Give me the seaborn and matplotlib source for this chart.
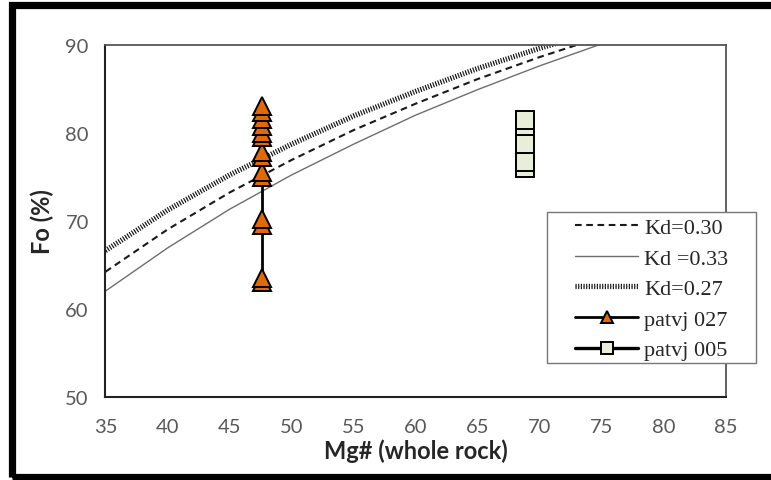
import matplotlib
matplotlib.use("Agg")
import matplotlib.pyplot as plt
import matplotlib.patheffects as pe
from matplotlib.patches import Rectangle
import seaborn as sns

# ---- data ----
mg_curve = [35, 40, 45, 50, 55, 60, 65, 70, 75]
fo_kd030 = [64.2, 69.0, 73.2, 76.9, 80.3, 83.3, 86.1, 88.6, 90.9]
fo_kd033 = [62.0, 66.9, 71.3, 75.2, 78.7, 82.0, 84.9, 87.6, 90.1]
fo_kd027 = [66.6, 71.2, 75.2, 78.7, 81.9, 84.7, 87.3, 89.6, 91.7]

mg_027 = [47.6] * 14
fo_027 = [63.0, 63.5, 69.5, 70.2, 75.0, 75.5, 77.2, 77.8, 79.5, 80.0, 80.8, 81.5, 82.3, 83.0]

mg_005 = [68.8] * 5
fo_005 = [76.0, 76.7, 78.7, 80.8, 81.4]

x_ticks = [35, 40, 45, 50, 55, 60, 65, 70, 75, 80, 85]
y_ticks = [50, 60, 70, 80, 90]
x_label = "Mg# (whole rock)"
y_label = "Fo (%)"

sns.set_style("white")
plt.rcParams["font.family"] = ["Lato", "DejaVu Sans"]

fig = plt.figure(figsize=(7.71, 4.81), dpi=100)
ax = fig.add_axes([0.1368, 0.1732, 0.9416 - 0.1368, 0.905 - 0.1732])

sns.lineplot(x=mg_curve, y=fo_kd030, ax=ax, color="#1a1a1a", lw=1.5,
             linestyle=(0, (3.2, 2.2)), label="Kd=0.30")
sns.lineplot(x=mg_curve, y=fo_kd033, ax=ax, color="#6e6e6e", lw=1.0,
             label="Kd =0.33")
sns.lineplot(x=mg_curve, y=fo_kd027, ax=ax, color="#404040", lw=0.8,
             linestyle=(0, (1, 1.4)), label="Kd=0.27",
             path_effects=[pe.Stroke(linewidth=3.8, foreground="#080808"), pe.Normal()])

sns.lineplot(x=mg_027, y=fo_027, ax=ax, estimator=None, sort=False,
             color="black", lw=2.0, marker="^", markersize=13.5,
             markerfacecolor="#E06A0A", markeredgecolor="black", markeredgewidth=1.4,
             label="patvj 027")
sns.lineplot(x=mg_005, y=fo_005, ax=ax, estimator=None, sort=False,
             color="black", lw=2.4, marker="s", markersize=13,
             markerfacecolor="#E9EEDB", markeredgecolor="black", markeredgewidth=1.4,
             label="patvj 005")

ax.set_xlim(35, 85)
ax.set_ylim(50, 90)
ax.set_xticks(x_ticks)
ax.set_yticks(y_ticks)
ax.tick_params(axis="both", direction="out", length=6, width=1.2, color="#333333",
               labelsize=14.5, labelcolor="#595959", pad=6)
ax.tick_params(axis="x", pad=9)
for side in ["left", "bottom"]:
    ax.spines[side].set_color("#222222")
    ax.spines[side].set_linewidth(1.5)
for side in ["top", "right"]:
    ax.spines[side].set_color("#555555")
    ax.spines[side].set_linewidth(1.3)

ax.set_xlabel(x_label, fontsize=17, fontweight="bold", color="#262626", labelpad=3)
ax.set_ylabel(y_label, fontsize=17, fontweight="bold", color="#262626", labelpad=8)

# legend box (drawn separately so it can extend to the right like the reference)
box = Rectangle((0.7115, 0.0957), 1.0483 - 0.7115, 0.5247 - 0.0957,
                transform=ax.transAxes, facecolor="white", edgecolor="#777777",
                linewidth=1.0, clip_on=False, zorder=5)
ax.add_patch(box)

leg = ax.legend(loc="upper left", bbox_to_anchor=(0.7566, 0.509), borderaxespad=0,
                frameon=False,
                prop={"family": "Liberation Serif", "size": 16},
                handlelength=2.85, handletextpad=0.27, labelspacing=0.45,
                borderpad=0, markerscale=0.65)
leg.set_zorder(10)

# figure frame
fig.patches.append(Rectangle((11.5 / 771, 3 / 481), 1.2, 1 - 8.5 / 481,
                             transform=fig.transFigure, fill=False,
                             edgecolor="black", linewidth=5.2, zorder=20))

fig.savefig("out.png", dpi=100)
